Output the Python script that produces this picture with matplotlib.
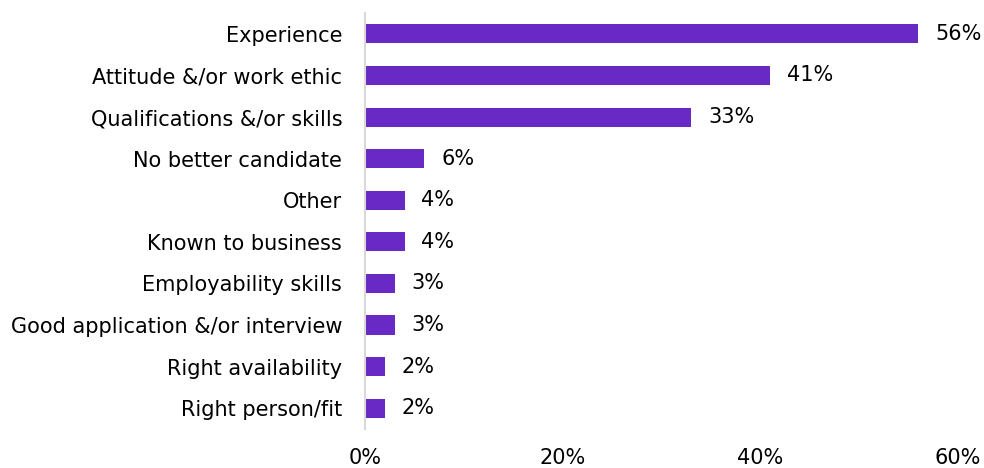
import matplotlib
matplotlib.use("Agg")
import matplotlib.pyplot as plt

categories = ["Experience", "Attitude &/or work ethic", "Qualifications &/or skills",
              "No better candidate", "Other", "Known to business", "Employability skills",
              "Good application &/or interview", "Right availability", "Right person/fit"]
values = [56, 41, 33, 6, 4, 4, 3, 3, 2, 2]
xticks = [0, 20, 40, 60]

plt.rcParams['font.family'] = ['DejaVu Sans']

fig = plt.figure(figsize=(9.84, 4.68), dpi=100)
ax = fig.add_axes([0.371, 0.0833, 0.6026, 0.8887])

cats = categories[::-1]
vals = values[::-1]
ypos = list(range(len(cats)))
ax.barh(ypos, vals, height=0.46, color="#6929C4")
for y, v in zip(ypos, vals):
    ax.text(v + 1.7, y, f"{v}%", va="center", ha="left", fontsize=15, color="#000000")

ax.set_xlim(0, 60)
ax.set_ylim(-0.5, len(cats) - 0.5)
ax.set_yticks(ypos)
ax.set_yticklabels(cats, fontsize=15)
ax.set_xticks(xticks)
ax.set_xticklabels([f"{t}%" for t in xticks], fontsize=15)
ax.tick_params(axis="y", length=0, pad=16.5)
ax.tick_params(axis="x", length=0, pad=14)
for s in ["top", "right", "bottom"]:
    ax.spines[s].set_visible(False)
ax.spines["left"].set_color("#D9D9D9")
ax.spines["left"].set_linewidth(1.5)

fig.savefig("out.png", dpi=100)
